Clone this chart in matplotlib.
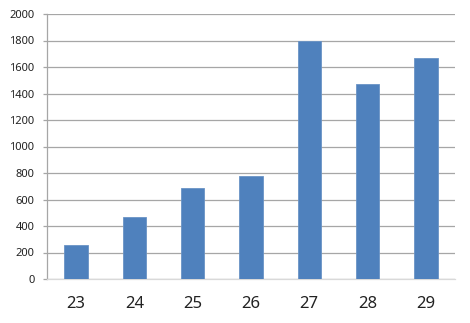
import matplotlib
matplotlib.use("Agg")
import matplotlib.pyplot as plt

categories = ["23", "24", "25", "26", "27", "28", "29"]
values = [260, 470, 690, 780, 1800, 1475, 1670]
yticks = [0, 200, 400, 600, 800, 1000, 1200, 1400, 1600, 1800, 2000]

plt.rcParams['font.family'] = ['Noto Sans', 'DejaVu Sans']

fig = plt.figure(figsize=(4.7, 3.23), dpi=100)
ax = fig.add_axes([47/470, 1-279/323, 408/470, 265/323])

x = list(range(len(categories)))
ax.bar(x, values, width=0.4, color="#4f81bd", edgecolor="#6a93c6", linewidth=0.6, zorder=3)

ax.set_xlim(-0.5, len(categories) - 0.5)
ax.set_ylim(0, 2000)
ax.set_yticks(yticks)
ax.set_yticklabels([str(v) for v in yticks], fontsize=8, color="#222222")
ax.set_xticks(x)
ax.set_xticklabels(categories, fontsize=12, color="#222222")

ax.yaxis.grid(True, color="#a6a6a6", linewidth=0.9, zorder=0)
for s in ["top", "right"]:
    ax.spines[s].set_visible(False)
ax.spines["left"].set_color("#a6a6a6")
ax.spines["left"].set_linewidth(0.9)
ax.spines["bottom"].set_color("#d9d9d9")
ax.spines["bottom"].set_linewidth(0.9)
ax.tick_params(axis="y", length=3, color="#a6a6a6", width=0.9, pad=6)
ax.tick_params(axis="x", length=0, pad=12)

fig.savefig("out.png", dpi=100)
